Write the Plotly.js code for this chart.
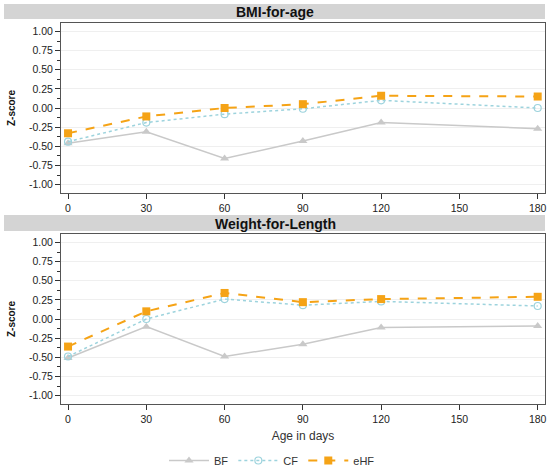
<!DOCTYPE html>
<html>
<head>
<meta charset="utf-8">
<script src="https://cdn.plot.ly/plotly-3.0.1.min.js"></script>
<style>
  html, body { margin: 0; padding: 0; background: #fff; }
  #chart { width: 550px; height: 468px; }
</style>
</head>
<body>
<div id="chart"></div>
<script>
// ages (days) where z-scores were measured
const days = [0, 30, 60, 90, 120, 180];
const xTicks = [0, 30, 60, 90, 120, 150, 180];
const yTicks = [1, 0.75, 0.5, 0.25, 0, -0.25, -0.5, -0.75, -1];
const yTickText = ['1.00', '0.75', '0.50', '0.25', '0.00', '-0.25', '-0.50', '-0.75', '-1.00'];

// BMI-for-age
const bmiBF = [-0.46, -0.31, -0.66, -0.43, -0.19, -0.27];
const bmiCF = [-0.44, -0.19, -0.08, -0.01, 0.10, 0.00];
const bmiEHF = [-0.33, -0.11, 0.00, 0.05, 0.16, 0.15];

// Weight-for-Length
const wflBF = [-0.51, -0.10, -0.49, -0.33, -0.11, -0.09];
const wflCF = [-0.49, 0.00, 0.26, 0.18, 0.23, 0.17];
const wflEHF = [-0.36, 0.10, 0.34, 0.22, 0.26, 0.29];

const FONT = 'Liberation Sans, Arial, sans-serif';
const W = 550, H = 468;
const px = v => v / W;
const py = v => 1 - v / H;

const styles = {
    BF: { line: { color: '#c9c9c9', width: 1.5, dash: 'solid' },
          marker: { symbol: 'triangle-up', size: 8, color: '#c9c9c9' } },
    CF: { line: { color: '#9dd3dd', width: 1.5, dash: 'dot' },
          marker: { symbol: 'circle-open', size: 7, color: '#9dd3dd', line: { width: 1.2 } } },
    eHF: { line: { color: '#f5a316', width: 2, dash: 'dash' },
           marker: { symbol: 'square', size: 8, color: '#f5a316' } }
};

function trace(name, y, xa, ya, showlegend) {
    return {
        x: days, y: y, name: name,
        xaxis: xa, yaxis: ya,
        type: 'scatter', mode: 'lines+markers',
        line: styles[name].line,
        marker: styles[name].marker,
        showlegend: showlegend,
        hoverinfo: 'none'
    };
}

const data = [
    trace('BF', bmiBF, 'x', 'y', true),
    trace('CF', bmiCF, 'x', 'y', true),
    trace('eHF', bmiEHF, 'x', 'y', true),
    trace('BF', wflBF, 'x2', 'y2', false),
    trace('CF', wflCF, 'x2', 'y2', false),
    trace('eHF', wflEHF, 'x2', 'y2', false)
];

function xAxis(anchor) {
    return {
        domain: [px(61), px(545)],
        anchor: anchor,
        range: [-2.7, 182.8],
        tickvals: xTicks,
        ticks: 'outside', ticklen: 5, tickcolor: '#333',
        showgrid: false, zeroline: false,
        showline: true, mirror: true, linecolor: '#555', linewidth: 1,
        tickfont: { family: FONT, size: 10.5, color: '#222' }
    };
}

function yAxis(anchor, top, bottom) {
    return {
        domain: [py(bottom), py(top)],
        anchor: anchor,
        range: [-1.11, 1.11],
        tickvals: yTicks, ticktext: yTickText,
        ticks: 'outside', ticklen: 5, tickcolor: '#333',
        minor: { dtick: 0.125, tick0: 0, ticks: 'outside', ticklen: 3, tickcolor: '#333', showgrid: false },
        showgrid: true, gridcolor: '#efefef', gridwidth: 1,
        zeroline: false,
        showline: true, mirror: true, linecolor: '#555', linewidth: 1,
        tickfont: { family: FONT, size: 10.5, color: '#222' },
        title: { text: 'Z-score', standoff: 11,
                 font: { family: FONT, size: 10, color: '#111', weight: 'bold' } }
    };
}

const x1 = xAxis('y');
const x2 = xAxis('y2');
x2.title = { text: 'Age in days', standoff: 8, font: { family: FONT, size: 12, color: '#333' } };

const layout = {
    width: W, height: H,
    margin: { l: 0, r: 0, t: 0, b: 0, autoexpand: false },
    paper_bgcolor: '#fff', plot_bgcolor: '#fff',
    font: { family: FONT },
    xaxis: x1,
    yaxis: yAxis('x', 23, 193),
    xaxis2: x2,
    yaxis2: yAxis('x2', 234, 404),
    showlegend: true,
    legend: {
        orientation: 'h', x: px(272), xanchor: 'center',
        y: py(446), yanchor: 'top',
        font: { family: FONT, size: 11, color: '#333' },
        itemwidth: 40
    },
    shapes: [
        { type: 'rect', xref: 'paper', yref: 'paper', layer: 'below',
          x0: px(4), x1: px(545), y0: py(19), y1: py(4),
          fillcolor: '#d4d4d4', line: { width: 0 } },
        { type: 'rect', xref: 'paper', yref: 'paper', layer: 'below',
          x0: px(4), x1: px(545), y0: py(231), y1: py(215),
          fillcolor: '#d4d4d4', line: { width: 0 } }
    ],
    annotations: [
        { text: '<b>BMI-for-age</b>', xref: 'paper', yref: 'paper',
          x: px(275), y: py(12), xanchor: 'center', yanchor: 'middle', showarrow: false,
          font: { family: FONT, size: 14, color: '#111' } },
        { text: '<b>Weight-for-Length</b>', xref: 'paper', yref: 'paper',
          x: px(275), y: py(223.5), xanchor: 'center', yanchor: 'middle', showarrow: false,
          font: { family: FONT, size: 14, color: '#111' } }
    ]
};

Plotly.newPlot('chart', data, layout, { displayModeBar: false, staticPlot: true });
</script>
</body>
</html>
